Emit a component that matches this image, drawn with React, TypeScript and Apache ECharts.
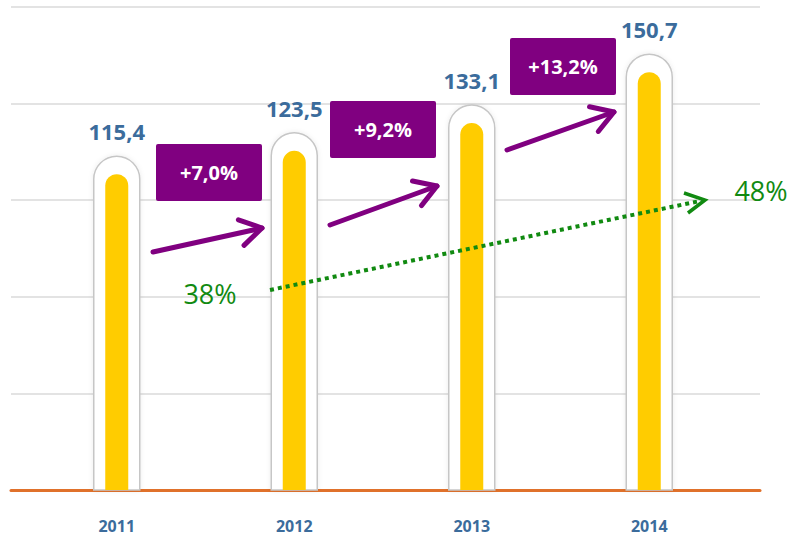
import React, { useEffect, useRef } from "react";
import * as echarts from "echarts";

const categories = ["2011", "2012", "2013", "2014"];
const values = [115.4, 123.5, 133.1, 150.7];
const valueLabels = ["115,4", "123,5", "133,1", "150,7"];
const growthLabels = ["+7,0%", "+9,2%", "+13,2%"];
const shareLabels = ["38%", "48%"];

const FONT = "'Open Sans', 'Noto Sans', sans-serif";
const BLUE = "#3b6c9c";
const PURPLE = "#800080";
const GREEN = "#118a11";

function arrowHead(x1: number, y1: number, x2: number, y2: number, len: number, ang: number) {
  const a = Math.atan2(y2 - y1, x2 - x1);
  const p1 = [x2 - len * Math.cos(a - ang), y2 - len * Math.sin(a - ang)];
  const p2 = [x2 - len * Math.cos(a + ang), y2 - len * Math.sin(a + ang)];
  return [p1, [x2, y2], p2];
}

function purpleArrow(x1: number, y1: number, x2: number, y2: number) {
  return [
    {
      type: "line",
      shape: { x1, y1, x2, y2 },
      style: { stroke: PURPLE, lineWidth: 5, lineCap: "round" },
      z: 20,
    },
    {
      type: "polyline",
      shape: { points: arrowHead(x1, y1, x2, y2, 25, 0.55) },
      style: { stroke: PURPLE, lineWidth: 5, lineCap: "round", lineJoin: "round", fill: null },
      z: 20,
    },
  ];
}

function growthBox(cx: number, cy: number, text: string) {
  return [
    {
      type: "rect",
      shape: { x: cx - 53, y: cy - 28, width: 106, height: 57, r: 2 },
      style: { fill: PURPLE },
      z: 20,
    },
    {
      type: "text",
      x: cx,
      y: cy,
      style: { text, fill: "#ffffff", font: `bold 20px ${FONT}`, align: "center", verticalAlign: "middle" },
      z: 21,
    },
  ];
}

export default function App() {
  const ref = useRef<HTMLDivElement>(null);
  useEffect(() => {
    if (!ref.current) return;
    const chart = echarts.init(ref.current, null, { renderer: "svg" });
    const boxCenters = [
      [209, 172],
      [383, 129],
      [563, 66],
    ];
    const arrows = [
      [153, 252, 262, 228],
      [330, 225, 437, 186],
      [507, 150, 614, 112],
    ];
    const graphics: any[] = [];
    growthLabels.forEach((t, i) => graphics.push(...growthBox(boxCenters[i][0], boxCenters[i][1], t)));
    arrows.forEach((a) => graphics.push(...purpleArrow(a[0], a[1], a[2], a[3])));
    graphics.push({
      type: "line",
      shape: { x1: 270, y1: 290, x2: 700, y2: 201 },
      style: { stroke: GREEN, lineWidth: 4, lineDash: [4, 4] },
      z: 20,
    });
    graphics.push({
      type: "polyline",
      shape: { points: [[684, 193], [705, 200], [688, 213]] },
      style: { stroke: GREEN, lineWidth: 3.5, fill: null, lineJoin: "miter" },
      z: 20,
    });
    graphics.push({
      type: "text",
      x: 210,
      y: 293,
      style: { text: shareLabels[0], fill: GREEN, font: `500 27px ${FONT}`, align: "center", verticalAlign: "middle" },
      z: 20,
    });
    graphics.push({
      type: "text",
      x: 761,
      y: 190,
      style: { text: shareLabels[1], fill: GREEN, font: `500 27px ${FONT}`, align: "center", verticalAlign: "middle" },
      z: 20,
    });

    chart.setOption({
      animation: false,
      backgroundColor: "#ffffff",
      grid: [
        { left: 11, right: 30, top: 7, bottom: 46 },
        { left: 28, right: 52, top: 7, bottom: 46 },
      ],
      xAxis: [
        {
          gridIndex: 0,
          type: "value",
          min: 0,
          max: 1,
          axisLine: { show: true, lineStyle: { color: "#e0712b", width: 3 } },
          axisTick: { show: false },
          axisLabel: { show: false },
          splitLine: { show: false },
        },
        {
          gridIndex: 1,
          type: "category",
          data: categories,
          axisLine: { show: false },
          axisTick: { show: false },
          axisLabel: {
            margin: 28,
            color: BLUE,
            fontWeight: "bold",
            fontSize: 16,
            lineHeight: 16,
            fontFamily: FONT,
          },
        },
      ],
      yAxis: [
        {
          gridIndex: 0,
          type: "value",
          min: 0,
          max: 5,
          interval: 1,
          axisLine: { show: false },
          axisTick: { show: false },
          axisLabel: { show: false },
          splitLine: { show: true, lineStyle: { color: "#dadada", width: 1.5 } },
        },
        {
          gridIndex: 1,
          type: "value",
          min: 0,
          max: 167,
          show: false,
          splitLine: { show: false },
        },
      ],
      series: [
        {
          type: "custom",
          xAxisIndex: 1,
          yAxisIndex: 1,
          z: 10,
          data: values.map((v, i) => [i, v]),
          renderItem: (params: any, api: any) => {
            const idx = api.value(0);
            const top = api.coord([idx, api.value(1)]);
            const base = api.coord([idx, 0]);
            const ow = 46;
            const iw = 23;
            const inset = 18;
            const cx = top[0];
            return {
              type: "group",
              children: [
                {
                  type: "rect",
                  shape: { x: cx - ow / 2, y: top[1], width: ow, height: base[1] - top[1], r: [ow / 2, ow / 2, 0, 0] },
                  style: {
                    fill: "#ffffff",
                    stroke: "#c6c6c6",
                    lineWidth: 1.5,
                    shadowBlur: 5,
                    shadowColor: "rgba(0,0,0,0.08)",
                  },
                },
                {
                  type: "rect",
                  shape: {
                    x: cx - iw / 2,
                    y: top[1] + inset,
                    width: iw,
                    height: base[1] - top[1] - inset,
                    r: [iw / 2, iw / 2, 0, 0],
                  },
                  style: { fill: "#ffcc00" },
                },
                {
                  type: "text",
                  x: cx,
                  y: top[1] - 25,
                  style: {
                    text: valueLabels[params.dataIndex],
                    fill: BLUE,
                    font: `bold 22px ${FONT}`,
                    align: "center",
                    verticalAlign: "middle",
                  },
                },
              ],
            };
          },
        },
      ],
      graphic: graphics,
    });
    return () => chart.dispose();
  }, []);
  return (
    <div
      ref={ref}
      style={{ position: "fixed", left: 0, top: 0, width: 790, height: 536 }}
    />
  );
}
